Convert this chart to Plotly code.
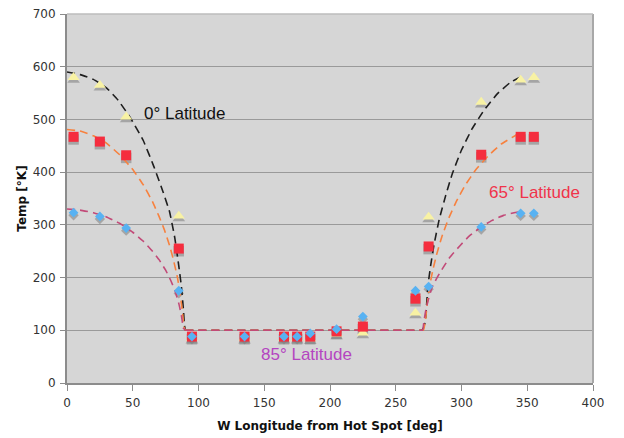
import plotly.graph_objects as go

# ---- data ----
lon = [5, 25, 45, 85, 95, 135, 165, 175, 185, 205, 225, 265, 275, 315, 345, 355]
temp_0 = [580, 565, 505, 317, 85, 85, 85, 85, 84, 93, 95, 133, 315, 533, 575, 580]
temp_65 = [467, 458, 432, 255, 88, 88, 88, 88, 88, 98, 107, 160, 259, 433, 467, 467]
temp_85 = [323, 316, 294, 175, 88, 88, 88, 88, 94, 102, 126, 175, 183, 296, 322, 322]

# model curves (dashed), read point by point: left branch, floor, right branch
c0_left_x = [0, 10, 20, 30, 39, 48, 58, 66, 73, 78, 82, 85, 87, 88.5, 89.3, 90]
c0_left_y = [590, 585, 576, 560, 536, 504, 460, 411, 363, 325, 275, 222, 183, 140, 110, 100]
c0_right_x = [270, 271, 272.5, 274.5, 276.5, 279, 283, 288, 293, 300, 308, 317, 327, 337, 346]
c0_right_y = [100, 104, 117, 185, 222, 261, 310, 356, 397, 442, 482, 517, 548, 570, 582]

c65_left_x = [0, 10, 20, 30, 40, 50, 58, 65, 70, 74, 78, 81, 84, 86, 88, 89, 90]
c65_left_y = [481, 478, 469, 455, 433, 405, 376, 344, 316, 291, 261, 233, 200, 170, 130, 106, 100]
c65_right_x = [270, 271, 272.5, 274, 276, 278, 281, 285, 290, 296, 303, 311, 320, 330, 342]
c65_right_y = [100, 100, 117, 152, 187, 212, 243, 277, 311, 344, 376, 405, 430, 453, 471]

c85_left_x = [0, 10, 20, 30, 40, 50, 58, 65, 70, 75, 79, 82, 85, 87, 88.5, 90]
c85_left_y = [330, 328, 323, 315, 303, 286, 269, 250, 234, 214, 194, 176, 151, 128, 104, 100]
c85_right_x = [270, 270.5, 271.5, 273, 275, 277.5, 281, 286, 291, 299, 306, 315, 323, 332, 340, 346]
c85_right_y = [100, 100, 118, 140, 160, 181, 198, 219, 238, 261, 279, 296, 308, 318, 323, 326]

floor_x = [90, 270]
floor_y = [100, 100]

x_ticks = [0, 50, 100, 150, 200, 250, 300, 350, 400]
y_ticks = [0, 100, 200, 300, 400, 500, 600, 700]

SHADOW_SHIFT = 5.0  # shadow axis range offset (~2.6 px downward)

fig = go.Figure()

marker_specs = [
    (temp_0, "triangle-up", 10.5, "#f8f2a4"),
    (temp_65, "square", 10, "#f52d3e"),
    (temp_85, "diamond", 7.5, "#58b2f2"),
]

# shadows (primary y axis, shifted range)
for ys, sym, sz, _ in marker_specs:
    fig.add_trace(go.Scatter(x=lon, y=ys, mode="markers", yaxis="y",
                             marker=dict(symbol=sym, size=sz + 0.5, color="rgba(125,125,125,0.55)", line=dict(width=0)),
                             showlegend=False, hoverinfo="skip"))

curve_specs = [
    ("#1e1e1e", c0_left_x, c0_left_y, c0_right_x, c0_right_y),
    ("#f7813e", c65_left_x, c65_left_y, c65_right_x, c65_right_y),
    ("#c24a78", c85_left_x, c85_left_y, c85_right_x, c85_right_y),
]
for color, lx, ly, rx, ry in curve_specs:
    ln = dict(color=color, width=1.6, dash="8px,5px")
    fig.add_trace(go.Scatter(x=lx, y=ly, mode="lines", yaxis="y2", line=dict(**ln, shape="spline", smoothing=0.3),
                             showlegend=False))
    fig.add_trace(go.Scatter(x=floor_x, y=floor_y, mode="lines", yaxis="y2", line=ln, showlegend=False))
    fig.add_trace(go.Scatter(x=rx, y=ry, mode="lines", yaxis="y2", line=dict(**ln, shape="spline", smoothing=0.3),
                             showlegend=False))

# markers
for ys, sym, sz, col in marker_specs:
    fig.add_trace(go.Scatter(x=lon, y=ys, mode="markers", yaxis="y2",
                             marker=dict(symbol=sym, size=sz, color=col, line=dict(width=0)), showlegend=False))

font_family = "DejaVu Sans, Verdana, sans-serif"
label_family = "Liberation Sans, Arial, sans-serif"

# the page body adds an 8 px margin, so the figure is 8 px smaller than the window
fig.update_layout(
    width=616, height=430,
    margin=dict(l=59, r=31, t=6, b=55),
    paper_bgcolor="white",
    plot_bgcolor="#d6d6d6",
    font=dict(family=font_family, size=12, color="#333333"),
    xaxis=dict(range=[0, 400], tickvals=x_ticks, ticktext=[str(v) for v in x_ticks], automargin=False,
               showgrid=False, zeroline=False, showline=True, linecolor="#8c8c8c", linewidth=2,
               mirror=False, ticks="outside", ticklen=6, tickcolor="#8c8c8c", ticklabelstandoff=2,
               ticklabeloverflow="allow",
               tickfont=dict(family=font_family, size=12, color="#333333"),
               title=dict(text="<b>W Longitude from Hot Spot [deg]</b>", standoff=12,
                          font=dict(family=font_family, size=12, color="#111111"))),
    yaxis=dict(range=[SHADOW_SHIFT, 700 + SHADOW_SHIFT], showgrid=False, zeroline=False, automargin=False,
               showticklabels=False, showline=False, ticks=""),
    yaxis2=dict(range=[0, 700], overlaying="y", side="left", anchor="x", automargin=False,
                tickvals=y_ticks, ticktext=[str(v) for v in y_ticks],
                showgrid=True, gridcolor="#9a9a9a", gridwidth=1, zeroline=False,
                showline=True, linecolor="#8c8c8c", linewidth=2,
                ticks="outside", ticklen=5, tickcolor="#8c8c8c", ticklabelstandoff=2,
                ticklabeloverflow="allow",
                tickfont=dict(family=font_family, size=12, color="#333333"),
                title=dict(text="<b>Temp [°K]</b>", standoff=3,
                           font=dict(family=font_family, size=12, color="#111111"))),
    shapes=[
        dict(type="line", xref="paper", yref="paper", x0=1, x1=1, y0=0, y1=1,
             line=dict(color="#a8a8a8", width=2)),
        dict(type="line", xref="paper", yref="paper", x0=0, x1=1, y0=1, y1=1,
             line=dict(color="#bdbdbd", width=1.5)),
    ],
    annotations=[
        dict(x=89, y=512, xref="x", yref="y2", text="0° Latitude", showarrow=False,
             font=dict(family=label_family, size=17, color="#111111")),
        dict(x=355.6, y=362, xref="x", yref="y2", text="65° Latitude", showarrow=False,
             font=dict(family=label_family, size=17, color="#f0334a")),
        dict(x=182, y=54, xref="x", yref="y2", text="85° Latitude", showarrow=False,
             font=dict(family=label_family, size=17, color="#b445c0")),
    ],
)

fig.write_html("out.html")
